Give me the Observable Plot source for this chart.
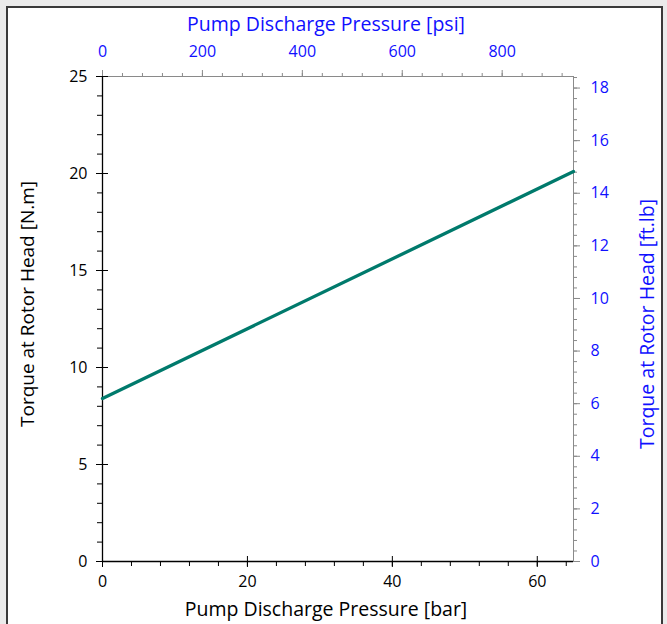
<!DOCTYPE html>
<html>
<head>
<meta charset="utf-8">
<script src="https://cdn.jsdelivr.net/npm/d3@7"></script>
<script src="https://cdn.jsdelivr.net/npm/@observablehq/plot@0.6"></script>
<style>
  html, body { margin: 0; padding: 0; background: #ebebeb; }
  #panel { position: absolute; left: 6px; top: 6px; width: 653px; height: 700px;
           background: #fff; border: 2px solid #3a3a3a; border-bottom: none; overflow: hidden; }
  #panel svg { position: absolute; left: 0; top: 0; }
</style>
</head>
<body>
<div id="panel"></div>
<script>
// ---- data ----
const pressureBar = [0, 65];
const torqueNm = [8.4, 20.1];
const barMajor = [0, 20, 40, 60];
const barMinor = d3.range(0, 65, 4);
const nmMajor = [0, 5, 10, 15, 20, 25];
const nmMinor = d3.range(0, 26, 1);
const psiMajor = [0, 200, 400, 600, 800];
const psiMinor = d3.range(0, 941, 40);
const ftlbMajor = [0, 2, 4, 6, 8, 10, 12, 14, 16, 18];
const ftlbMinor = d3.range(0, 18.45, 0.4);
const PSI_PER_BAR = 14.5038;
const FTLB_PER_NM = 0.737562;

const line = pressureBar.map((p, i) => ({p, t: torqueNm[i]}));

const W = 653, H = 618;
const mL = 94, mR = 88, mT = 68, mB = 65;
const iW = W - mL - mR, iH = H - mT - mB;
const blue = "#1010ff";
const gray = "#8a8a8a";
const font = "'Open Sans', sans-serif";

const chart = Plot.plot({
  width: W, height: H,
  marginLeft: mL, marginRight: mR, marginTop: mT, marginBottom: mB,
  style: {fontFamily: font, background: "transparent", overflow: "visible"},
  x: {domain: [0, 65], axis: null},
  y: {domain: [0, 25], axis: null},
  marks: [
    // frame
    Plot.ruleY([25], {stroke: gray, strokeWidth: 1}),
    Plot.ruleX([65], {stroke: gray, strokeWidth: 1}),
    Plot.ruleY([0], {stroke: "#000", strokeWidth: 1.3}),
    Plot.ruleX([0], {stroke: "#000", strokeWidth: 1.3}),
    // bottom ticks (bar)
    Plot.ruleX(barMinor, {x: d => d, insetTop: iH, insetBottom: -5, stroke: "#000"}),
    Plot.ruleX(barMajor, {x: d => d, insetTop: iH - 5, insetBottom: -6, stroke: "#000"}),
    Plot.text(barMajor, {x: d => d, text: d => String(d), frameAnchor: "bottom", textAnchor: "middle", dy: 25, fontSize: 16, fill: "#000"}),
    // left ticks (N.m)
    Plot.ruleY(nmMinor, {y: d => d, insetLeft: -5, insetRight: iW, stroke: "#000"}),
    Plot.ruleY(nmMajor, {y: d => d, insetLeft: -6, insetRight: iW - 6, stroke: "#000"}),
    Plot.text(nmMajor, {y: d => d, text: d => String(d), frameAnchor: "left", dx: -15, textAnchor: "end", fontSize: 16, fill: "#000"}),
    // top ticks (psi)
    Plot.ruleX(psiMinor, {x: d => d / PSI_PER_BAR, insetTop: -3, insetBottom: iH, stroke: gray}),
    Plot.ruleX(psiMajor, {x: d => d / PSI_PER_BAR, insetTop: -6, insetBottom: iH, stroke: gray}),
    Plot.text(psiMajor, {x: d => d / PSI_PER_BAR, text: d => String(d), frameAnchor: "top", textAnchor: "middle", dy: -31, fontSize: 16, fill: blue}),
    // right ticks (ft.lb)
    Plot.ruleY(ftlbMinor, {y: d => d / FTLB_PER_NM, insetLeft: iW, insetRight: -4, stroke: gray}),
    Plot.ruleY(ftlbMajor, {y: d => d / FTLB_PER_NM, insetLeft: iW, insetRight: -7, stroke: gray}),
    Plot.text(ftlbMajor, {y: d => d / FTLB_PER_NM, text: d => String(d), frameAnchor: "right", dx: 17, textAnchor: "start", fontSize: 16, fill: blue}),
    // axis titles
    Plot.text(["Pump Discharge Pressure [bar]"], {frameAnchor: "bottom", textAnchor: "middle", dx: -12, dy: 54, fontSize: 19.5, fill: "#000"}),
    Plot.text(["Pump Discharge Pressure [psi]"], {frameAnchor: "top", textAnchor: "middle", dx: -12, dy: -59, fontSize: 19.5, fill: blue}),
    Plot.text(["Torque at Rotor Head [N.m]"], {frameAnchor: "left", textAnchor: "middle", dx: -75, dy: -15, rotate: -90, fontSize: 19, fill: "#000"}),
    Plot.text(["Torque at Rotor Head [ft.lb]"], {frameAnchor: "right", textAnchor: "middle", dx: 74, dy: 5, rotate: -90, fontSize: 19.5, fill: blue}),
    // data line
    Plot.line(line, {x: "p", y: "t", stroke: "#007a6c", strokeWidth: 3.3})
  ]
});
document.getElementById("panel").appendChild(chart);
</script>
</body>
</html>
